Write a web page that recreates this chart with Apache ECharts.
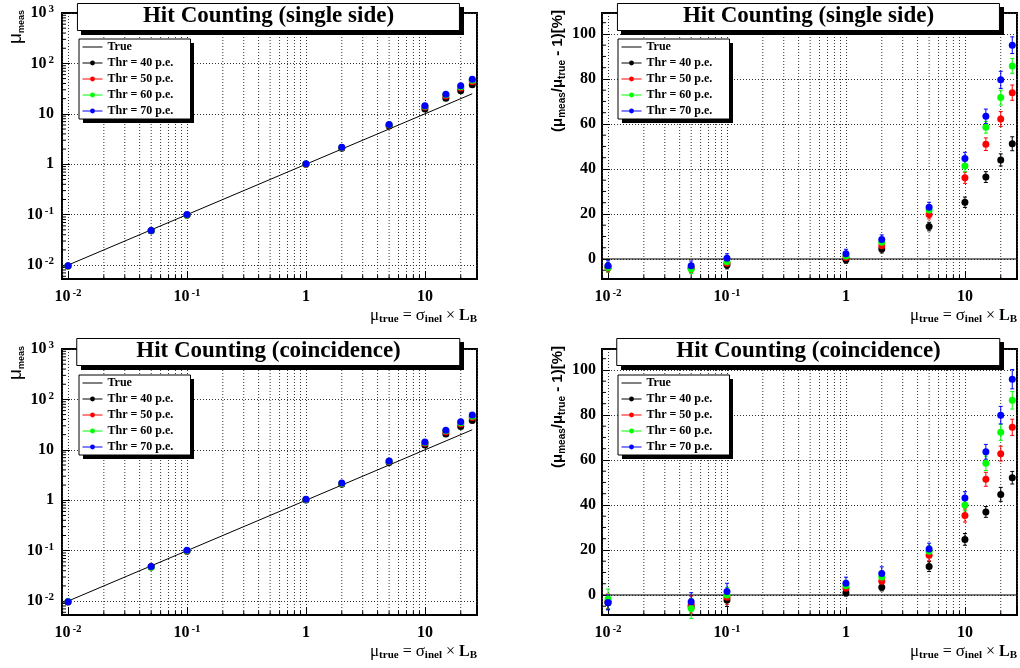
<!DOCTYPE html>
<html><head><meta charset="utf-8">
<script src="https://cdn.jsdelivr.net/npm/echarts@6/dist/echarts.min.js"></script>
<style>html,body{margin:0;padding:0;background:#fff}#c{width:1020px;height:668px}</style>
</head><body><div id="c"></div>
<script>
// ---------------- data ----------------
const MU_TRUE = [0.01, 0.05, 0.1, 1, 2, 5, 10, 15, 20, 25];
const THRESHOLDS = ['Thr = 40 p.e.', 'Thr = 50 p.e.', 'Thr = 60 p.e.', 'Thr = 70 p.e.'];
const COLORS = ['#000000', '#ff0000', '#00ff00', '#0000ff'];
const TITLES = ['Hit Counting (single side)', 'Hit Counting (single side)', 'Hit Counting (coincidence)', 'Hit Counting (coincidence)'];

// single side : measured mu
const SS_MEAS_40 = [0.00965, 0.048, 0.0973, 0.996, 2.088, 5.72, 12.52, 20.46, 28.8, 37.8];
const SS_MEAS_50 = [0.0096, 0.048, 0.0981, 1.006, 2.118, 5.99, 13.61, 22.65, 32.44, 43.48];
const SS_MEAS_60 = [0.00962, 0.04775, 0.0988, 1.013, 2.148, 6.09, 14.13, 23.78, 34.34, 46.45];
const SS_MEAS_70 = [0.0097, 0.0485, 0.1003, 1.023, 2.174, 6.15, 14.47, 24.51, 35.92, 48.75];
// single side : deviation [%]
const SS_DEV_40 = [-3.5, -4.0, -2.7, -0.4, 4.4, 14.4, 25.2, 36.4, 44.0, 51.2];
const SS_DEV_50 = [-4.0, -4.0, -1.9, 0.6, 5.9, 19.8, 36.1, 51.0, 62.2, 73.9];
const SS_DEV_60 = [-3.8, -4.5, -1.2, 1.3, 7.4, 21.8, 41.3, 58.5, 71.7, 85.8];
const SS_DEV_70 = [-3.0, -3.0, 0.3, 2.3, 8.7, 23.0, 44.7, 63.4, 79.6, 95.0];
const SS_ERR_40 = [1.8, 1.8, 1.7, 1.5, 1.7, 1.9, 2.3, 2.4, 2.7, 3.1];
const SS_ERR_50 = [1.9, 1.9, 1.8, 1.6, 1.8, 2.0, 2.5, 2.8, 3.3, 3.4];
const SS_ERR_60 = [2.0, 2.0, 1.9, 1.7, 1.9, 2.1, 2.5, 2.6, 3.3, 3.3];
const SS_ERR_70 = [2.2, 2.1, 2.0, 2.0, 2.0, 2.2, 2.7, 3.2, 3.8, 3.7];

// coincidence : measured mu
const CO_MEAS_40 = [0.00965, 0.0474, 0.0978, 1.01, 2.068, 5.63, 12.47, 20.54, 28.94, 38.03];
const CO_MEAS_50 = [0.00972, 0.04785, 0.099, 1.03, 2.122, 5.88, 13.53, 22.71, 32.56, 43.63];
const CO_MEAS_60 = [0.00982, 0.047, 0.1, 1.041, 2.16, 5.97, 14.0, 23.78, 34.46, 46.63];
const CO_MEAS_70 = [0.00967, 0.0485, 0.1015, 1.052, 2.19, 6.02, 14.31, 24.54, 35.98, 48.98];
// coincidence : deviation [%]
const CO_DEV_40 = [-3.5, -5.2, -2.2, 1.0, 3.4, 12.6, 24.7, 36.9, 44.7, 52.1];
const CO_DEV_50 = [-2.8, -4.3, -1.0, 3.0, 6.1, 17.6, 35.3, 51.4, 62.8, 74.5];
const CO_DEV_60 = [-1.8, -6.0, 0.0, 4.1, 8.0, 19.4, 40.0, 58.5, 72.3, 86.5];
const CO_DEV_70 = [-3.3, -3.0, 1.5, 5.2, 9.5, 20.4, 43.1, 63.6, 79.9, 95.9];
const CO_ERR_40 = [3.0, 3.6, 2.9, 1.5, 1.6, 2.2, 2.6, 2.4, 3.1, 2.8];
const CO_ERR_50 = [3.2, 3.8, 3.1, 2.0, 2.2, 2.4, 2.9, 3.1, 3.3, 3.6];
const CO_ERR_60 = [4.4, 4.4, 3.4, 2.4, 2.6, 2.5, 2.6, 3.2, 3.6, 3.9];
const CO_ERR_70 = [3.3, 4.0, 3.7, 2.7, 3.0, 2.6, 2.8, 3.3, 3.9, 4.3];

// axis ranges & ticks
const X_MIN = 0.0089, X_MAX = 27.4;
const YLOG_MIN = 0.0053, YLOG_MAX = 1000;
const YLIN_MIN = -8.9, YLIN_MAX = 109.3;
const TRUE_LOG = [[X_MIN, X_MIN], [25, 25]];
const TRUE_LIN = [[X_MIN, 0], [X_MAX, 0]];
const MINOR_MULT = [2, 3, 4, 5, 6, 7, 8, 9];
const DECADES = [0.001, 0.01, 0.1, 1, 10, 100];
const LIN_MINOR = [-5, 5, 10, 15, 25, 30, 35, 45, 50, 55, 65, 70, 75, 85, 90, 95, 105];

// ---------------- build ----------------
const GRIDS = [
  {left: 62, top: 13, width: 415, height: 266},
  {left: 602, top: 13, width: 415, height: 266},
  {left: 62, top: 349, width: 415, height: 266},
  {left: 602, top: 349, width: 415, height: 266}
];
const TITLE_POS = [[77, 3], [617, 3], [77, 338], [617, 338]];
const TITLE_W = 383, TITLE_H = 28;
const LEGEND_POS = [[79, 39], [618, 39], [79, 375], [618, 375]];
const LEGEND_W = 111, LEGEND_H = 80;
const SHADOW = 4;

const MEAS = [[SS_MEAS_40, SS_MEAS_50, SS_MEAS_60, SS_MEAS_70], null, [CO_MEAS_40, CO_MEAS_50, CO_MEAS_60, CO_MEAS_70], null];
const DEV = [null, [SS_DEV_40, SS_DEV_50, SS_DEV_60, SS_DEV_70], null, [CO_DEV_40, CO_DEV_50, CO_DEV_60, CO_DEV_70]];
const ERR = [null, [SS_ERR_40, SS_ERR_50, SS_ERR_60, SS_ERR_70], null, [CO_ERR_40, CO_ERR_50, CO_ERR_60, CO_ERR_70]];

function logMinors(lo, hi) {
  const out = [];
  DECADES.forEach(d => MINOR_MULT.forEach(m => { const v = m * d; if (v > lo && v < hi) out.push(v); }));
  return out;
}
const X_MINORS = logMinors(X_MIN, X_MAX);
const YLOG_MINORS = logMinors(YLOG_MIN, YLOG_MAX);

const LABEL_RICH = {
  b: {fontFamily: 'Liberation Serif', fontWeight: 'bold', fontSize: 16, lineHeight: 18, color: '#000'},
  s: {fontFamily: 'Liberation Serif', fontWeight: 'bold', fontSize: 11, lineHeight: 11, verticalAlign: 'top', padding: [0, 0, 0, 2], color: '#000'}
};
function logLabel(v) {
  const l = Math.log10(v), r = Math.round(l);
  if (Math.abs(l - r) > 1e-6) return '';
  if (r === 0) return '{b|1}';
  if (r === 1) return '{b|10}';
  return '{b|10}{s|' + (r < 0 ? '-' : '') + Math.abs(r) + '}';
}
function linLabel(v) {
  if (Math.abs(v - Math.round(v / 20) * 20) > 1e-6) return '';
  return '{b|' + Math.round(v) + '}';
}

const ctx = document.createElement('canvas').getContext('2d');
function textW(font, t) { ctx.font = font; return ctx.measureText(t).width; }
const LEGEND_TEXT_W = Math.max.apply(null, THRESHOLDS.map(t => textW('bold 12px "Liberation Serif"', t)));
const LEGEND_PAD_R = LEGEND_W - 3 - 25 - LEGEND_TEXT_W;

const AXIS_LINE = {onZero: false, lineStyle: {color: '#000', width: 2}};
const AXIS_TICK = {inside: true, length: 8, lineStyle: {color: '#000', width: 1}};
const SPLIT = {show: true, lineStyle: {color: '#333', width: 1, type: [1, 2]}};

const shadowRects = [];
TITLE_POS.forEach(p => shadowRects.push({type: 'rect', silent: true, z: 8,
  shape: {x: p[0] + SHADOW, y: p[1] + SHADOW, width: TITLE_W, height: TITLE_H}, style: {fill: '#000'}}));
LEGEND_POS.forEach(p => shadowRects.push({type: 'rect', silent: true, z: 8,
  shape: {x: p[0] + SHADOW, y: p[1] + SHADOW, width: LEGEND_W, height: LEGEND_H}, style: {fill: '#000'}}));

const option = {
  animation: false,
  backgroundColor: '#fff',
  textStyle: {fontFamily: 'Liberation Serif'},
  graphic: {elements: shadowRects},
  grid: GRIDS.map(g => Object.assign({show: true, borderColor: '#000', borderWidth: 2, backgroundColor: 'transparent', containLabel: false, outerBoundsMode: 'none'}, g)),
  title: TITLES.map((t, i) => {
    const w = textW('bold 23px "Liberation Serif"', t);
    const ph = (TITLE_W - w) / 2;
    return {
      text: t, left: TITLE_POS[i][0], top: TITLE_POS[i][1], padding: [2, ph, 3, ph], z: 10,
      backgroundColor: '#fff', borderColor: '#000', borderWidth: 1,
      textStyle: {fontFamily: 'Liberation Serif', fontWeight: 'bold', fontSize: 23, lineHeight: 23, color: '#000'}
    };
  }),
  legend: LEGEND_POS.map(p => ({
    left: p[0], top: p[1], orient: 'vertical', itemGap: 0, itemWidth: 20, itemHeight: 6, z: 10,
    padding: [0, LEGEND_PAD_R, 0, 3], backgroundColor: '#fff', borderColor: '#000', borderWidth: 1,
    selectedMode: false,
    textStyle: {fontFamily: 'Liberation Serif', fontWeight: 'bold', fontSize: 12, lineHeight: 16, color: '#000'},
    lineStyle: {opacity: 1, width: 1},
    data: [{name: 'True', itemStyle: {opacity: 0}}].concat(THRESHOLDS)
  })),
  xAxis: GRIDS.map((g, i) => ({
    type: 'log', gridIndex: i, min: X_MIN, max: X_MAX, logBase: 10,
    axisLine: AXIS_LINE, axisTick: AXIS_TICK, splitLine: SPLIT,
    axisLabel: {formatter: logLabel, margin: 9, rich: LABEL_RICH},
    name: '{m|μ}{sub|true}{g| = }{m|σ}{sub|inel}{g| × }{gb|L}{sub|B}',
    nameLocation: 'end', nameGap: 0, nameMoveOverlap: false,
    nameTextStyle: {
      align: 'right', verticalAlign: 'top', padding: [28, 0, 0, 0],
      rich: {
        m: {fontFamily: 'Liberation Serif', fontSize: 17, lineHeight: 18, color: '#000'},
        g: {fontFamily: 'Liberation Serif', fontSize: 16, lineHeight: 18, color: '#000'},
        gb: {fontFamily: 'Liberation Serif', fontWeight: 'bold', fontSize: 16, lineHeight: 18, color: '#000'},
        sub: {fontFamily: 'Liberation Serif', fontWeight: 'bold', fontSize: 11, lineHeight: 11, verticalAlign: 'bottom', color: '#000'}
      }
    }
  })),
  yAxis: GRIDS.map((g, i) => {
    const isLog = (i % 2 === 0);
    const base = {
      gridIndex: i, axisLine: AXIS_LINE, axisTick: AXIS_TICK, splitLine: SPLIT,
      nameLocation: 'end', nameRotate: 90, nameGap: 3, nameMoveOverlap: false
    };
    if (isLog) {
      return Object.assign(base, {
        type: 'log', min: YLOG_MIN, max: YLOG_MAX, logBase: 10,
        axisLabel: {formatter: logLabel, margin: 8, rich: LABEL_RICH},
        name: '{g|μ}{sub|meas}',
        nameTextStyle: {
          align: 'right', verticalAlign: 'bottom', padding: [0, 0, 36, 0],
          rich: {
            g: {fontFamily: 'Liberation Sans', fontSize: 19, lineHeight: 20, color: '#000'},
            sub: {fontFamily: 'Liberation Sans', fontWeight: 'bold', fontSize: 9, lineHeight: 9, verticalAlign: 'bottom', color: '#000'}
          }
        }
      });
    }
    return Object.assign(base, {
      type: 'value', min: YLIN_MIN, max: YLIN_MAX,
      axisLabel: {formatter: linLabel, margin: 6, rich: LABEL_RICH},
      name: '{g|(μ}{sub|meas}{g|/μ}{sub|true}{g| - 1)[%]}',
      nameTextStyle: {
        align: 'right', verticalAlign: 'bottom', padding: [0, 0, 35, 0],
        rich: {
          g: {fontFamily: 'Liberation Sans', fontWeight: 'bold', fontSize: 15, lineHeight: 18, color: '#000'},
          sub: {fontFamily: 'Liberation Sans', fontWeight: 'bold', fontSize: 10, lineHeight: 10, verticalAlign: 'bottom', color: '#000'}
        }
      }
    });
  }),
  series: []
};

GRIDS.forEach((g, p) => {
  const isLog = (p % 2 === 0);
  const yRef = isLog ? 1 : 0;
  // minor vertical grid lines + bottom minor ticks
  option.series.push({
    type: 'custom', name: 'xminor' + p, xAxisIndex: p, yAxisIndex: p, silent: true, z: 1,
    data: X_MINORS.map(v => [v, yRef]),
    renderItem: (params, api) => {
      const x = api.coord([api.value(0), yRef])[0];
      const cs = params.coordSys;
      return {type: 'group', children: [
        {type: 'line', shape: {x1: x, y1: cs.y, x2: x, y2: cs.y + cs.height}, style: {stroke: '#333', lineWidth: 1, lineDash: [1, 2]}},
        {type: 'line', shape: {x1: x, y1: cs.y + cs.height, x2: x, y2: cs.y + cs.height - 4}, style: {stroke: '#000', lineWidth: 1}}
      ]};
    }
  });
  // minor y ticks
  const yMinors = isLog ? YLOG_MINORS : LIN_MINOR;
  option.series.push({
    type: 'custom', name: 'yminor' + p, xAxisIndex: p, yAxisIndex: p, silent: true, z: 1,
    data: yMinors.map(v => [1, v]),
    renderItem: (params, api) => {
      const y = api.coord([1, api.value(1)])[1];
      const cs = params.coordSys;
      return {type: 'line', shape: {x1: cs.x, y1: y, x2: cs.x + 4, y2: y}, style: {stroke: '#000', lineWidth: 1}};
    }
  });
  // True line
  option.series.push({
    type: 'line', name: 'True', xAxisIndex: p, yAxisIndex: p, silent: true, z: 3,
    data: isLog ? TRUE_LOG : TRUE_LIN, symbol: 'none',
    lineStyle: {color: '#000', width: 1}, itemStyle: {color: '#000'}
  });
  // error bars (right panels)
  if (!isLog) {
    THRESHOLDS.forEach((t, k) => {
      const dev = DEV[p][k], err = ERR[p][k];
      option.series.push({
        type: 'custom', name: 'err' + p + '_' + k, xAxisIndex: p, yAxisIndex: p, silent: true, z: 3 + k * 0.1,
        data: MU_TRUE.map((x, i) => [x, dev[i], err[i]]),
        renderItem: (params, api) => {
          const x = api.value(0), y = api.value(1), e = api.value(2);
          const a = api.coord([x, y + e]), b = api.coord([x, y - e]);
          const st = {stroke: COLORS[k], lineWidth: 1};
          return {type: 'group', children: [
            {type: 'line', shape: {x1: a[0], y1: a[1], x2: b[0], y2: b[1]}, style: st},
            {type: 'line', shape: {x1: a[0] - 2, y1: a[1], x2: a[0] + 2, y2: a[1]}, style: st},
            {type: 'line', shape: {x1: b[0] - 2, y1: b[1], x2: b[0] + 2, y2: b[1]}, style: st}
          ]};
        }
      });
    });
  }
  // points
  THRESHOLDS.forEach((t, k) => {
    const vals = isLog ? MEAS[p][k] : DEV[p][k];
    option.series.push({
      type: 'line', name: t, xAxisIndex: p, yAxisIndex: p, silent: true, z: 4 + k * 0.1,
      data: MU_TRUE.map((x, i) => [x, vals[i]]),
      symbol: 'circle', symbolSize: 7, showSymbol: true,
      itemStyle: {color: COLORS[k]},
      lineStyle: {color: COLORS[k], width: 0, opacity: 0},
      emphasis: {disabled: true}
    });
  });
});

const chart = echarts.init(document.getElementById('c'), null, {renderer: 'canvas'});
chart.setOption(option);
</script></body></html>
